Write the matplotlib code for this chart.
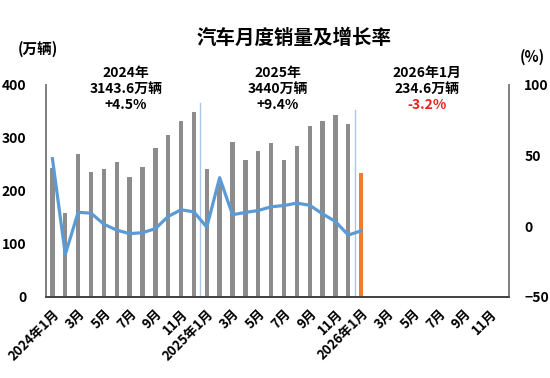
import numpy as np
import matplotlib
matplotlib.use("Agg")
import matplotlib.pyplot as plt

plt.rcParams['font.family'] = ['Noto Sans CJK SC', 'DejaVu Sans']

# 月度销量 (万辆), 2024-01 .. 2026-01
sales = [243.9, 158.4, 269.4, 235.9, 241.7, 255.3, 226.2, 245.3, 280.9, 305.3, 331.6, 349.6,
         242.3, 212.9, 291.5, 259.0, 274.8, 290.4, 259.3, 285.7, 322.7, 332.2, 342.9, 327.2,
         234.6]
# 同比增长率 (%)
growth = [47.9, -19.9, 9.9, 9.3, 1.5, -2.7, -5.2, -4.5, -1.7, 7.0, 11.7, 10.2,
          -0.6, 34.4, 8.2, 9.8, 11.2, 13.8, 14.7, 16.4, 14.9, 8.8, 3.4, -6.2,
          -3.2]
n_months = 36
tick_labels = ['2024年1月', '3月', '5月', '7月', '9月', '11月',
               '2025年1月', '3月', '5月', '7月', '9月', '11月',
               '2026年1月', '3月', '5月', '7月', '9月', '11月']
notes = [('2024年', '3143.6万辆', '+4.5%', 'black'),
         ('2025年', '3440万辆', '+9.4%', 'black'),
         ('2026年1月', '234.6万辆', '-3.2%', '#e8231e')]

fig = plt.figure(figsize=(5.5, 3.78), dpi=100)
ax = fig.add_axes([0.0836, 0.2143, 0.842, 0.561])
ax2 = ax.twinx()

x = np.arange(len(sales))
colors = ['#8c8c8c'] * (len(sales) - 1) + ['#ed7d31']
ax.bar(x, sales, width=0.34, color=colors, zorder=2)
ax2.plot(x, growth, color='#5b9bd5', lw=2.3, zorder=3)

# year separators
ax.plot([11.5, 11.5], [0, 366], color='#a9c8e8', lw=1, zorder=1)
ax.plot([23.5, 23.5], [0, 353], color='#a9c8e8', lw=1, zorder=1)

ax.set_xlim(-0.5, n_months - 0.5)
ax.set_ylim(0, 400)
ax.set_yticks([0, 100, 200, 300, 400])
ax2.set_ylim(-50, 100)
ax2.set_yticks([-50, 0, 50, 100])

ax.set_xticks(np.arange(0, n_months, 2))
ax.set_xticklabels(tick_labels, rotation=45, ha='right', rotation_mode='anchor',
                   fontsize=9.5, fontweight='bold')
ax.tick_params(axis='x', length=0, pad=7)
ax.tick_params(axis='y', length=0, pad=14, labelsize=10)
ax2.tick_params(axis='y', length=0, pad=11, labelsize=10)
for lab in ax.get_yticklabels() + ax2.get_yticklabels():
    lab.set_fontweight('bold')

for a in (ax, ax2):
    a.spines['top'].set_visible(False)
    a.spines['left'].set_color('#7f7f7f')
    a.spines['right'].set_color('#7f7f7f')
    a.spines['bottom'].set_color('#404040')
    a.spines['left'].set_linewidth(1.2)
    a.spines['right'].set_linewidth(1.2)
    a.spines['bottom'].set_linewidth(1.2)

fig.text(0.535, 0.9, '汽车月度销量及增长率', ha='center', va='center',
         fontsize=14, fontweight='bold')
fig.text(0.069, 0.87, '(万辆)', ha='center', va='center', fontsize=10.5, fontweight='bold')
fig.text(0.968, 0.85, '(%)', ha='center', va='center', fontsize=10.5, fontweight='bold')

note_x = [0.229, 0.505, 0.777]
for nx, (l1, l2, l3, col) in zip(note_x, notes):
    fig.text(nx, 0.807, l1, ha='center', va='center', fontsize=10, fontweight='bold')
    fig.text(nx, 0.765, l2, ha='center', va='center', fontsize=10, fontweight='bold')
    fig.text(nx, 0.722, l3, ha='center', va='center', fontsize=10, fontweight='bold',
             color=col)

fig.savefig('out.png', dpi=100)
